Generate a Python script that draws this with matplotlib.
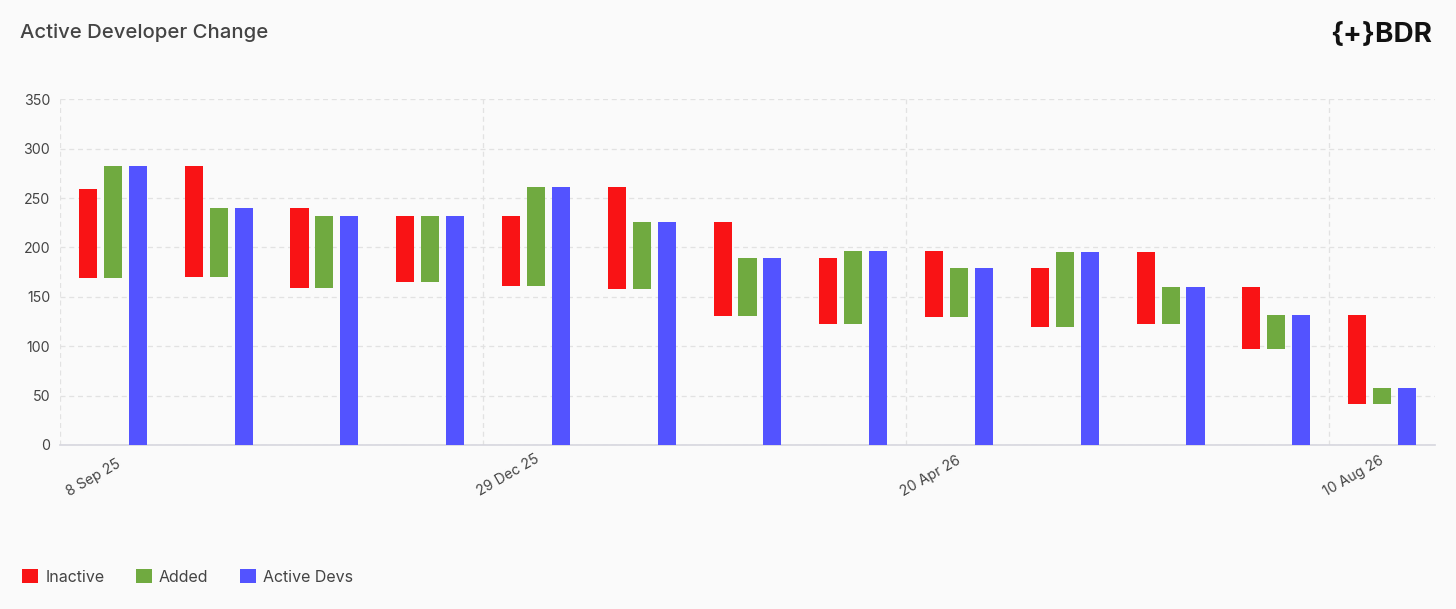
import matplotlib

matplotlib.use("Agg")
import matplotlib.dates as mdates
import matplotlib.pyplot as plt
import pandas as pd
from matplotlib.patches import Patch
from matplotlib.transforms import ScaledTranslation

# 4-week periods (start dates)
PERIODS = [
    "2025-09-08", "2025-10-06", "2025-11-03", "2025-12-01", "2025-12-29",
    "2026-01-26", "2026-02-23", "2026-03-23", "2026-04-20", "2026-05-18",
    "2026-06-15", "2026-07-13", "2026-08-10",
]
ACTIVE_DEVS = [282, 240, 232, 232, 261, 226, 189, 196, 179, 195, 160, 132, 58]
ADDED = [113, 70, 73, 67, 100, 68, 58, 74, 49, 76, 38, 35, 16]
INACTIVE = [90, 112, 81, 67, 71, 103, 95, 67, 66, 60, 73, 63, 90]

TICK_DATES = ["2025-09-08", "2025-12-29", "2026-04-20", "2026-08-10"]
TICK_LABELS = ["8 Sep 25", "29 Dec 25", "20 Apr 26", "10 Aug 26"]

RED = "#f91315"
GREEN = "#70aa40"
BLUE = "#5353ff"
BG = "#fafafa"
TEXT = "#444444"
GRID = "#e2e2e2"

plt.rcParams["font.family"] = ["Inter", "DejaVu Sans"]

W, H = 1456, 609
fig = plt.figure(figsize=(W / 100, H / 100), dpi=100, facecolor=BG)
ax = fig.add_axes([60 / W, 1 - 445 / H, (1435 - 60) / W, (445 - 99.3) / H])
ax.set_facecolor(BG)

starts = mdates.date2num(pd.to_datetime(PERIODS))
centers = starts + 14
bar_w = 4.8
gap = 6.6

retained = [a - d for a, d in zip(ACTIVE_DEVS, ADDED)]

ax.bar(centers - gap, INACTIVE, bottom=retained, width=bar_w, color=RED, zorder=3)
ax.bar(centers, ADDED, bottom=retained, width=bar_w, color=GREEN, zorder=3)
ax.bar(centers + gap, ACTIVE_DEVS, width=bar_w, color=BLUE, zorder=3)

x0 = mdates.date2num(pd.Timestamp("2025-09-08"))
ax.set_xlim(x0, x0 + 364)
ax.set_ylim(0, 350)

ax.set_yticks(range(0, 351, 50))
ax.tick_params(axis="y", length=0, pad=7, labelsize=10.2, labelcolor=TEXT)

ticks = mdates.date2num(pd.to_datetime(TICK_DATES))
ax.set_xticks(ticks)
ax.set_xticklabels(TICK_LABELS)
ax.tick_params(axis="x", length=0, pad=37, labelsize=10.2, labelcolor=TEXT)
# first label sits a little further right in the original
label_dx = [9, -3, -3, -3]
for lab, dx in zip(ax.get_xticklabels(), label_dx):
    lab.set_rotation(30)
    lab.set_rotation_mode("anchor")
    lab.set_ha("left")
    lab.set_va("baseline")
    lab.set_transform(lab.get_transform()
                      + ScaledTranslation(dx / 100, 0, fig.dpi_scale_trans))

ax.grid(True, color=GRID, linestyle=(0, (4, 3)), linewidth=0.9, zorder=0)
for side in ("top", "right", "left"):
    ax.spines[side].set_visible(False)
ax.spines["bottom"].set_color("#d6d6de")
ax.spines["bottom"].set_linewidth(1.2)

fig.text(20 / W, 1 - 33 / H, "Active Developer Change", fontsize=14.6,
         fontweight="medium", color=TEXT, va="center", ha="left")
fig.text(1432 / W, 1 - 35 / H, "{+}BDR", fontsize=20, fontweight="bold",
         color="#111111", va="center", ha="right")

handles = [Patch(facecolor=c, edgecolor="none") for c in (RED, GREEN, BLUE)]
fig.legend(handles, ["Inactive", "Added", "Active Devs"], loc="center left",
           bbox_to_anchor=(8 / W, 1 - 577 / H), ncol=3, frameon=False,
           fontsize=11.5, labelcolor=TEXT, handlelength=1.0, handleheight=1.0,
           handletextpad=0.45, columnspacing=1.95)

fig.savefig("out.png", dpi=100, facecolor=BG)
